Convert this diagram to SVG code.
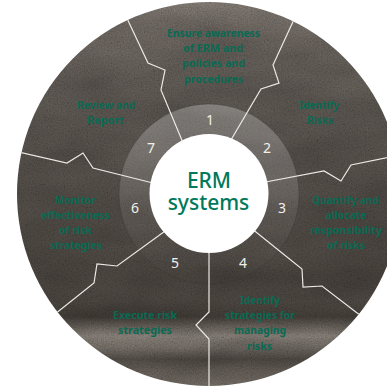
<svg xmlns="http://www.w3.org/2000/svg" width="387" height="388" viewBox="0 0 387 388">
  <defs>
    <style>
      .label { font-family: "Noto Sans", "Liberation Sans", sans-serif; font-weight: 700; font-size: 10.5px; fill: #0a6a53; text-anchor: middle; }
      .num { font-family: "Noto Sans", "Liberation Sans", sans-serif; font-size: 14px; fill: #f2f0ec; text-anchor: middle; }
      .core { font-family: "Noto Sans", "Liberation Sans", sans-serif; font-weight: 500; font-size: 21px; fill: #00785b; text-anchor: middle; }
      .spoke { fill: none; stroke: #ebe9e4; stroke-width: 1.2; stroke-linejoin: miter; }
      .grain { mix-blend-mode: overlay; }
    </style>
    <!-- stone-like shading of the outer disk -->
    <linearGradient id="stone" x1="0" y1="2" x2="0" y2="386" gradientUnits="userSpaceOnUse">
      <stop offset="0" stop-color="#5c5752"/>
      <stop offset="0.1" stop-color="#4d4844"/>
      <stop offset="0.25" stop-color="#44403c"/>
      <stop offset="0.51" stop-color="#3b3733"/>
      <stop offset="0.70" stop-color="#36322e"/>
      <stop offset="0.78" stop-color="#37332f"/>
      <stop offset="0.82" stop-color="#2f2b27"/>
      <stop offset="0.87" stop-color="#625d58"/>
      <stop offset="0.90" stop-color="#55504b"/>
      <stop offset="0.93" stop-color="#393531"/>
      <stop offset="0.96" stop-color="#48433e"/>
      <stop offset="1" stop-color="#534e49"/>
    </linearGradient>
    <!-- lighter veil over the number ring, fading downwards -->
    <linearGradient id="veil" x1="0" y1="103" x2="0" y2="284" gradientUnits="userSpaceOnUse">
      <stop offset="0" stop-color="#ffffff" stop-opacity="0.26"/>
      <stop offset="0.45" stop-color="#ffffff" stop-opacity="0.13"/>
      <stop offset="0.75" stop-color="#ffffff" stop-opacity="0.04"/>
      <stop offset="1" stop-color="#ffffff" stop-opacity="0"/>
    </linearGradient>
    <!-- fine speckle, neutral grey on average -->
    <filter id="grain" x="0" y="0" width="100%" height="100%">
      <feTurbulence type="fractalNoise" baseFrequency="0.7" numOctaves="2" seed="7"/>
      <feColorMatrix type="matrix" values="0.6 0.6 0.6 0 -0.4  0.6 0.6 0.6 0 -0.4  0.6 0.6 0.6 0 -0.4  0 0 0 0 1"/>
    </filter>
    <!-- broad soft clouding -->
    <filter id="mottle" x="0" y="0" width="100%" height="100%">
      <feTurbulence type="fractalNoise" baseFrequency="0.012 0.03" numOctaves="3" seed="11"/>
      <feColorMatrix type="matrix" values="0.5 0.5 0.5 0 -0.25  0.5 0.5 0.5 0 -0.25  0.5 0.5 0.5 0 -0.25  0 0 0 0 1"/>
    </filter>
    <clipPath id="disk">
      <circle cx="209" cy="194" r="192"/>
    </clipPath>
  </defs>

  <!-- outer disk with texture -->
  <g id="backdrop" clip-path="url(#disk)" style="isolation:isolate">
    <rect x="17" y="2" width="384" height="384" fill="url(#stone)"/>
    <rect class="grain" x="17" y="2" width="384" height="384" filter="url(#mottle)" opacity="0.25"/>
    <rect class="grain" x="17" y="2" width="384" height="384" filter="url(#grain)" opacity="0.3"/>
    <circle cx="209" cy="194" r="90" fill="url(#veil)" stroke="#2f3935" stroke-opacity="0.45" stroke-width="0.8"/>
  </g>

  <!-- dividing lines between the stages -->
  <g id="connectors" clip-path="url(#disk)">
    <polyline class="spoke" points="124,12 148,63 165,70 161,90 186,150"/>
    <polyline class="spoke" points="297,13 273,65 279,83 261,89 225,150"/>
    <polyline class="spoke" points="255,184 324,171 341,181 351,165 405,154"/>
    <polyline class="spoke" points="165,186 93,168 83,153 67,163 14,151"/>
    <polyline class="spoke" points="172,226 117,266 97,264 94,283 50,318"/>
    <polyline class="spoke" points="246,224 302,269 303,287 322,286 365,319"/>
    <polyline class="spoke" points="209,200 209,312 196,325 209,339 209,392"/>
  </g>

  <!-- centre -->
  <g id="erm-systems">
    <circle cx="209" cy="193.5" r="59.5" fill="#ffffff"/>
    <text class="core" x="209" y="188">ERM</text>
    <text class="core" x="208.5" y="209.5">systems</text>
  </g>

  <g id="stage-1">
    <text class="num" x="210" y="125">1</text>
    <text class="label" x="213.5" y="37" textLength="93" lengthAdjust="spacingAndGlyphs">Ensure awareness</text>
    <text class="label" x="213" y="52" textLength="60" lengthAdjust="spacingAndGlyphs">of ERM and</text>
    <text class="label" x="213.5" y="67" textLength="63" lengthAdjust="spacingAndGlyphs">policies and</text>
    <text class="label" x="213.5" y="82.5" textLength="59" lengthAdjust="spacingAndGlyphs">procedures</text>
  </g>

  <g id="stage-2">
    <text class="num" x="267" y="153">2</text>
    <text class="label" x="319" y="109" textLength="40" lengthAdjust="spacingAndGlyphs">Identify</text>
    <text class="label" x="320" y="124" textLength="26" lengthAdjust="spacingAndGlyphs">Risks</text>
  </g>

  <g id="stage-3">
    <text class="num" x="282" y="213">3</text>
    <text class="label" x="345.5" y="204" textLength="67" lengthAdjust="spacingAndGlyphs">Quantify and</text>
    <text class="label" x="346" y="219" textLength="41" lengthAdjust="spacingAndGlyphs">allocate</text>
    <text class="label" x="346" y="234" textLength="72" lengthAdjust="spacingAndGlyphs">responsibility</text>
    <text class="label" x="346" y="249" textLength="38" lengthAdjust="spacingAndGlyphs">of risks</text>
  </g>

  <g id="stage-4">
    <text class="num" x="243" y="268">4</text>
    <text class="label" x="260" y="304" textLength="40" lengthAdjust="spacingAndGlyphs">Identify</text>
    <text class="label" x="260" y="319" textLength="70" lengthAdjust="spacingAndGlyphs">strategies for</text>
    <text class="label" x="260" y="334" textLength="52" lengthAdjust="spacingAndGlyphs">managing</text>
    <text class="label" x="259.5" y="349.5" textLength="25" lengthAdjust="spacingAndGlyphs">risks</text>
  </g>

  <g id="stage-5">
    <text class="num" x="175" y="268">5</text>
    <text class="label" x="145" y="319" textLength="64" lengthAdjust="spacingAndGlyphs">Execute risk</text>
    <text class="label" x="145" y="334" textLength="54" lengthAdjust="spacingAndGlyphs">strategies</text>
  </g>

  <g id="stage-6">
    <text class="num" x="135" y="213">6</text>
    <text class="label" x="75.5" y="204" textLength="41" lengthAdjust="spacingAndGlyphs">Monitor</text>
    <text class="label" x="75.5" y="219" textLength="69" lengthAdjust="spacingAndGlyphs">effectiveness</text>
    <text class="label" x="75.5" y="234" textLength="33" lengthAdjust="spacingAndGlyphs">of risk</text>
    <text class="label" x="76" y="249" textLength="52" lengthAdjust="spacingAndGlyphs">strategies</text>
  </g>

  <g id="stage-7">
    <text class="num" x="151" y="153">7</text>
    <text class="label" x="106" y="109" textLength="58" lengthAdjust="spacingAndGlyphs">Review and</text>
    <text class="label" x="105.5" y="124" textLength="37" lengthAdjust="spacingAndGlyphs">Report</text>
  </g>
</svg>
